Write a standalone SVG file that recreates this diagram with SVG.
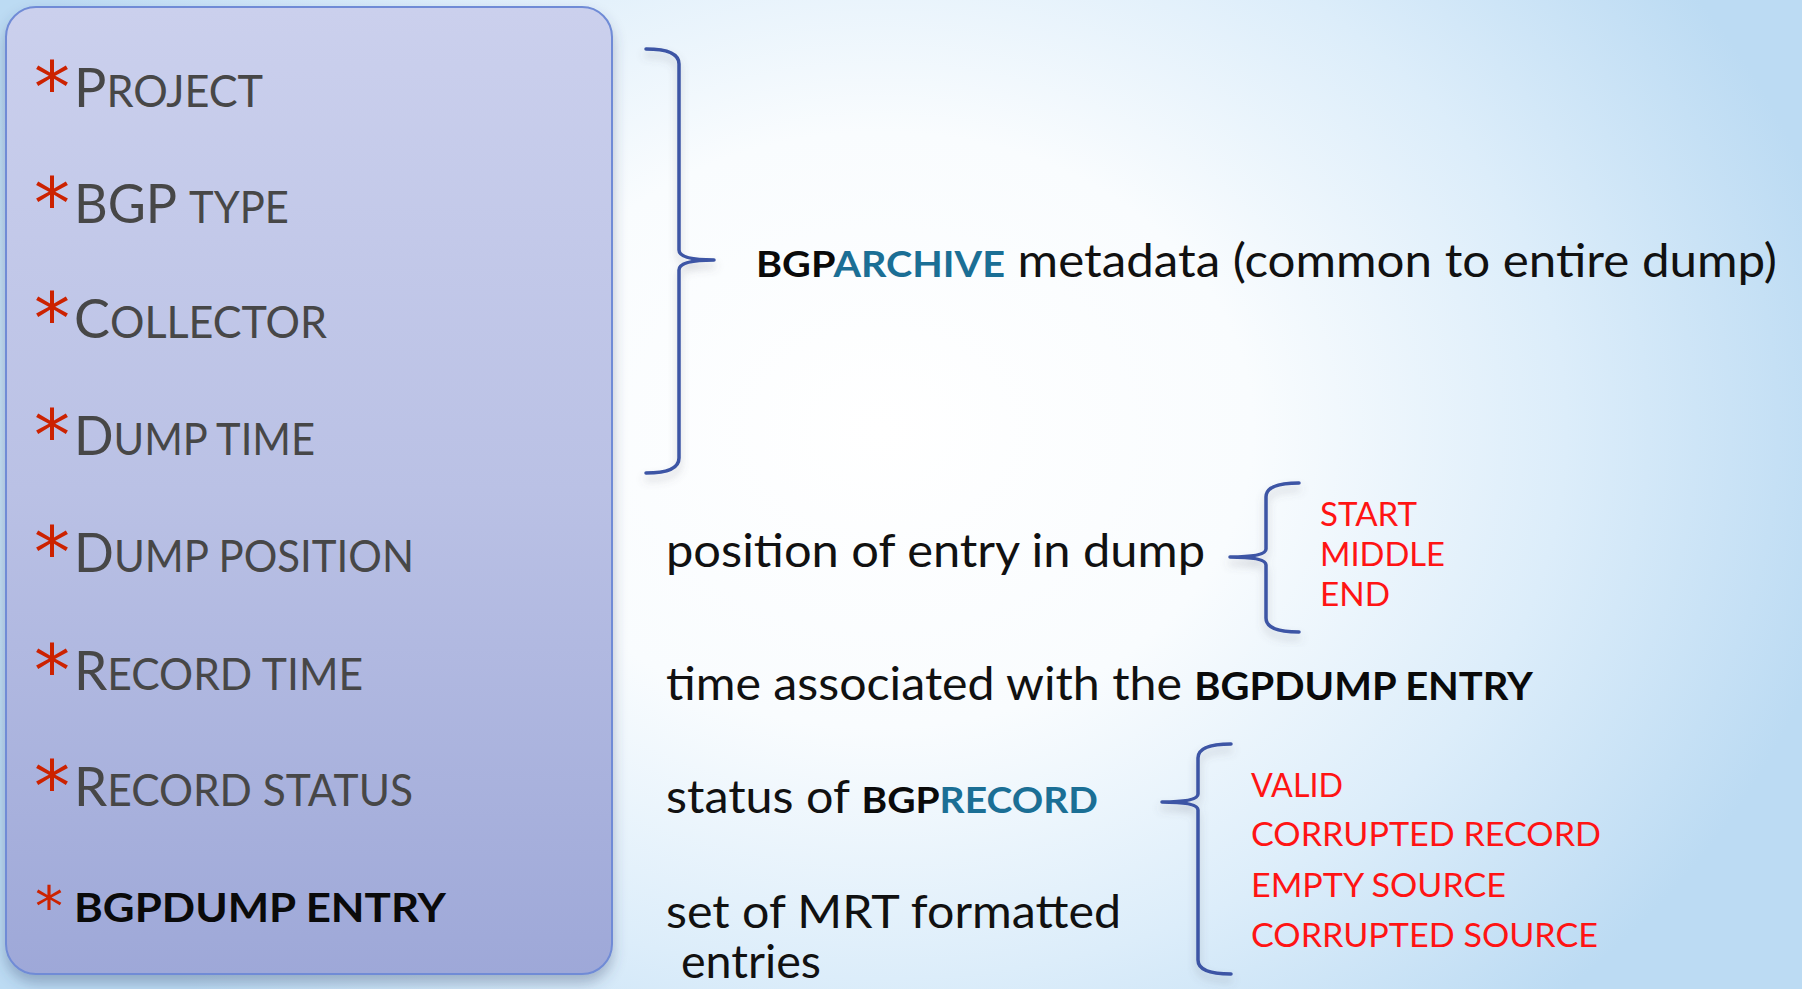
<svg xmlns="http://www.w3.org/2000/svg" width="1802" height="989" viewBox="0 0 1802 989">
<defs>
<radialGradient id="bg" gradientUnits="userSpaceOnUse" cx="880" cy="430" r="980" gradientTransform="translate(880 430) scale(1 0.8) translate(-880 -430)">
<stop offset="0" stop-color="#ffffff"/>
<stop offset="0.38" stop-color="#f9fcfe"/>
<stop offset="0.7" stop-color="#dcedfa"/>
<stop offset="1" stop-color="#bcdbf3"/>
</radialGradient>
<linearGradient id="panelFill" x1="0" y1="0" x2="0" y2="1">
<stop offset="0" stop-color="#cbd0ed"/>
<stop offset="0.5" stop-color="#bac1e5"/>
<stop offset="1" stop-color="#9ea8d8"/>
</linearGradient>
<filter id="shadow" x="-10%" y="-10%" width="120%" height="120%">
<feDropShadow dx="0" dy="8" stdDeviation="7" flood-color="#3a4a70" flood-opacity="0.35"/>
</filter>
<filter id="braceShadow" x="-50%" y="-10%" width="200%" height="120%">
<feDropShadow dx="0" dy="6" stdDeviation="4" flood-color="#606070" flood-opacity="0.3"/>
</filter>
<style>
.item{font-family:Lato,"Open Sans","Liberation Sans",sans-serif;fill:#474747;}
.star{font-family:"DejaVu Sans","Liberation Sans",sans-serif;fill:#cc2200;}
.body{font-family:Lato,"Open Sans","Liberation Sans",sans-serif;fill:#111111;font-size:46px;}
.bold{font-weight:700;fill:#0a0a0a;}
.teal{font-weight:700;fill:#1b6f95;}
.red{font-family:Lato,"Open Sans","Liberation Sans",sans-serif;fill:#ff1414;font-size:33px;}
.brace{fill:none;stroke:#3c55a5;stroke-width:3.5;stroke-linecap:round;stroke-linejoin:round;}
</style>
</defs>
<rect width="1802" height="989" fill="url(#bg)"/>

<g id="panel">
<rect x="6" y="7" width="606" height="967" rx="30" ry="30" fill="url(#panelFill)" stroke="#6f8bd6" stroke-width="2" filter="url(#shadow)"/>
</g>

<g id="item-project">
<text class="star" x="34" y="112" font-size="72">*</text>
<text class="item" x="74" y="107" textLength="189" lengthAdjust="spacingAndGlyphs"><tspan font-size="55">P</tspan><tspan font-size="44">ROJECT</tspan></text>
</g>
<g id="item-bgptype">
<text class="star" x="34" y="228" font-size="72">*</text>
<text class="item" x="74" y="223" textLength="215" lengthAdjust="spacingAndGlyphs"><tspan font-size="55">BGP </tspan><tspan font-size="44">TYPE</tspan></text>
</g>
<g id="item-collector">
<text class="star" x="34" y="343" font-size="72">*</text>
<text class="item" x="74" y="338" textLength="253" lengthAdjust="spacingAndGlyphs"><tspan font-size="55">C</tspan><tspan font-size="44">OLLECTOR</tspan></text>
</g>
<g id="item-dumptime">
<text class="star" x="34" y="460" font-size="72">*</text>
<text class="item" x="74" y="455" textLength="241" lengthAdjust="spacingAndGlyphs"><tspan font-size="55">D</tspan><tspan font-size="44">UMP  TIME</tspan></text>
</g>
<g id="item-dumpposition">
<text class="star" x="34" y="577" font-size="72">*</text>
<text class="item" x="74" y="572" textLength="340" lengthAdjust="spacingAndGlyphs"><tspan font-size="55">D</tspan><tspan font-size="44">UMP POSITION</tspan></text>
</g>
<g id="item-recordtime">
<text class="star" x="34" y="695" font-size="72">*</text>
<text class="item" x="74" y="690" textLength="289" lengthAdjust="spacingAndGlyphs"><tspan font-size="55">R</tspan><tspan font-size="44">ECORD TIME</tspan></text>
</g>
<g id="item-recordstatus">
<text class="star" x="34" y="811" font-size="72">*</text>
<text class="item" x="74" y="806" textLength="339" lengthAdjust="spacingAndGlyphs"><tspan font-size="55">R</tspan><tspan font-size="44">ECORD STATUS</tspan></text>
</g>
<g id="item-bgpdumpentry">
<text class="star" x="35" y="926" font-size="56">*</text>
<text class="item bold" x="74" y="922" font-size="40" textLength="372" lengthAdjust="spacingAndGlyphs">BGPDUMP ENTRY</text>
</g>

<g id="connectors">
<path class="brace" filter="url(#braceShadow)" d="M646,49 Q679,49 679,64 L679,250 Q679,260 714,260 Q679,260 679,270 L679,458 Q679,473 646,473"/>
<path class="brace" filter="url(#braceShadow)" d="M1299,483 Q1266,483 1266,497 L1266,549 Q1266,557 1230,557 Q1266,557 1266,565 L1266,618 Q1266,632 1299,632"/>
<path class="brace" filter="url(#braceShadow)" d="M1231,744 Q1198,744 1198,758 L1198,794 Q1198,802 1162,802 Q1198,802 1198,810 L1198,960 Q1198,974 1231,974"/>
</g>

<g id="label-archive">
<text class="body" x="756" y="277" font-size="41" textLength="1021" lengthAdjust="spacingAndGlyphs"><tspan class="bold" font-size="37">BGP</tspan><tspan class="teal" font-size="37">ARCHIVE</tspan> metadata (common to entire dump)</text>
</g>
<g id="label-position">
<text class="body" x="666" y="567" textLength="539" lengthAdjust="spacingAndGlyphs">position of entry in dump</text>
</g>
<g id="values-position">
<text class="red" x="1320" y="526" textLength="97" lengthAdjust="spacingAndGlyphs">START</text>
<text class="red" x="1320" y="566" textLength="125" lengthAdjust="spacingAndGlyphs">MIDDLE</text>
<text class="red" x="1320" y="606" textLength="70" lengthAdjust="spacingAndGlyphs">END</text>
</g>
<g id="label-time">
<text class="body" x="666" y="700" textLength="867" lengthAdjust="spacingAndGlyphs">time associated with the <tspan class="bold" font-size="38">BGPDUMP ENTRY</tspan></text>
</g>
<g id="label-status">
<text class="body" x="666" y="813" textLength="432" lengthAdjust="spacingAndGlyphs">status of <tspan class="bold" font-size="37">BGP</tspan><tspan class="teal" font-size="37">RECORD</tspan></text>
</g>
<g id="values-status">
<text class="red" x="1251" y="797" textLength="92" lengthAdjust="spacingAndGlyphs">VALID</text>
<text class="red" x="1251" y="846" textLength="350" lengthAdjust="spacingAndGlyphs">CORRUPTED RECORD</text>
<text class="red" x="1251" y="897" textLength="255" lengthAdjust="spacingAndGlyphs">EMPTY SOURCE</text>
<text class="red" x="1251" y="947" textLength="347" lengthAdjust="spacingAndGlyphs">CORRUPTED SOURCE</text>
</g>
<g id="label-entries">
<text class="body" x="666" y="928" textLength="455" lengthAdjust="spacingAndGlyphs">set of MRT formatted</text>
<text class="body" x="681" y="978" textLength="140" lengthAdjust="spacingAndGlyphs">entries</text>
</g>
</svg>
